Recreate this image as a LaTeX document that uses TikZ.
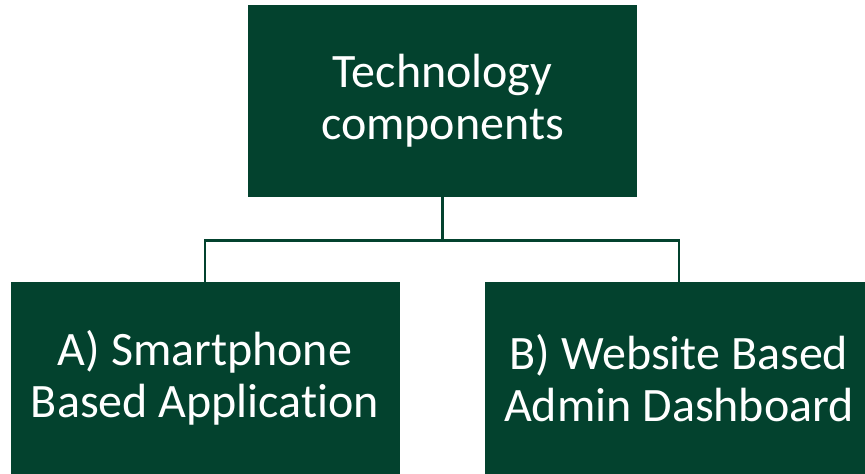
\documentclass[tikz,border=0pt]{standalone}
\usepackage{fontspec}
\setmainfont{Carlito}[Ligatures=NoCommon]
\usetikzlibrary{calc}
\definecolor{darkgreen}{RGB}{3,66,46}

\begin{document}
\begin{tikzpicture}[x=1pt, y=1pt,
    box/.style={fill=darkgreen, text=white, minimum width=389pt, minimum height=192pt,
        align=center, inner sep=0pt, font=\fontsize{48}{52}\selectfont},
    link/.style={draw=darkgreen, line width=2.8pt}]
    \useasboundingbox (0,0) rectangle (865,474);
    \clip (0,0) rectangle (865,474);

    \node[box] (tech) at (442.5,373) {Technology\\components};
    \node[box] (app) at (205,96) {A) Smartphone\\Based Application};
    \node[box] (admin) at (679,96) {B) Website Based\\Admin Dashboard};

    % elbow connectors from the top box
    \coordinate (hub) at ($(tech.south)+(0,-43)$);
    \draw[link] (tech.south) -- (hub) -| (app.north);
    \draw[link] (hub) -| (admin.north);
\end{tikzpicture}
\end{document}
